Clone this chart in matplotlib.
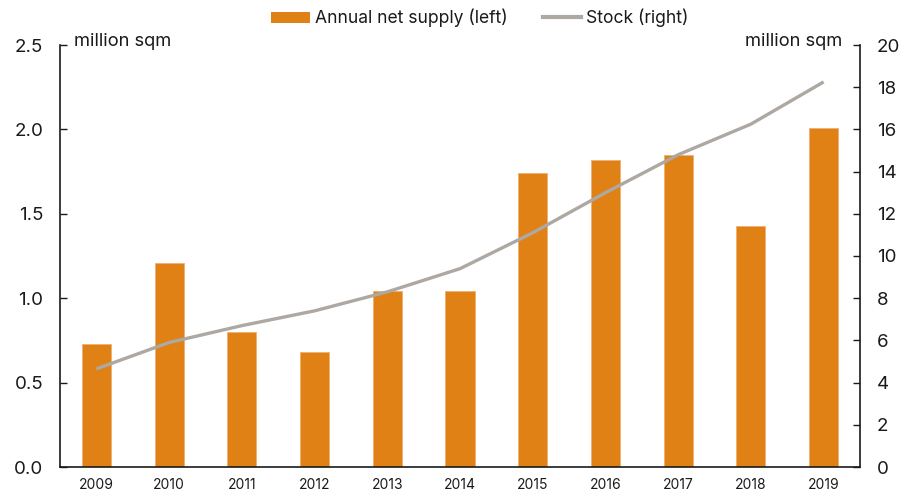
import matplotlib
matplotlib.use("Agg")
import matplotlib.pyplot as plt
from matplotlib.lines import Line2D
from matplotlib.patches import Patch

years = ["2009", "2010", "2011", "2012", "2013", "2014", "2015", "2016", "2017", "2018", "2019"]
net_supply = [0.73, 1.21, 0.80, 0.68, 1.04, 1.04, 1.74, 1.82, 1.85, 1.43, 2.01]
stock = [4.65, 5.9, 6.7, 7.4, 8.3, 9.4, 11.1, 13.0, 14.8, 16.25, 18.25]
left_ticks = [0.0, 0.5, 1.0, 1.5, 2.0, 2.5]
right_ticks = [0, 2, 4, 6, 8, 10, 12, 14, 16, 18, 20]

plt.rcParams['font.family'] = ['Inter', 'DejaVu Sans']
bar_color = '#DF8115'
line_color = '#ADA8A1'
txt = '#1a1a1a'

fig = plt.figure(figsize=(9.18, 4.96), dpi=100)
ax = fig.add_axes([60/918, 29/496, 800/918, 422/496])
x = list(range(len(years)))
ax.bar(x, net_supply, width=0.4, color=bar_color, edgecolor='#F0B070', linewidth=0.6, zorder=2)
ax.set_xlim(-0.5, len(years) - 0.5)
ax.set_ylim(0, 2.5)
ax.set_yticks(left_ticks)
ax.set_yticklabels([f"{v:.1f}" for v in left_ticks])
ax.set_xticks(x)
ax.set_xticklabels(years)
ax.tick_params(axis='x', length=0, labelsize=10, pad=8, colors=txt)
ax.tick_params(axis='y', direction='in', length=5, width=1, labelsize=13.5, pad=12, colors=txt)
for s in ['top', 'right']:
    ax.spines[s].set_visible(False)
for s in ['left', 'bottom']:
    ax.spines[s].set_linewidth(1.2)
    ax.spines[s].set_color(txt)

ax2 = ax.twinx()
ax2.plot(x, stock, color=line_color, linewidth=2.4, solid_capstyle='butt', zorder=3)
ax2.set_ylim(0, 20)
ax2.set_yticks(right_ticks)
ax2.tick_params(axis='y', direction='in', length=5, width=1, labelsize=13.5, pad=12, colors=txt)
for s in ['top', 'left', 'bottom']:
    ax2.spines[s].set_visible(False)
ax2.spines['right'].set_linewidth(1.2)
ax2.spines['right'].set_color(txt)

fig.text(74/918, 1 - 42/496, "million sqm", fontsize=13.2, color=txt, va='center', ha='left')
fig.text(842/918, 1 - 42/496, "million sqm", fontsize=13.2, color=txt, va='center', ha='right')

handles = [Patch(facecolor=bar_color, edgecolor='none'),
           Line2D([0], [0], color=line_color, linewidth=3)]
fig.legend(handles, ["Annual net supply (left)", "Stock (right)"],
           loc='center', bbox_to_anchor=(480/918, 1 - 18/496), ncol=2, frameon=False,
           fontsize=12.6, handlelength=2.2, handleheight=0.6, handletextpad=0.3,
           columnspacing=2.0, labelcolor=txt)

fig.savefig("out.png", dpi=100)
